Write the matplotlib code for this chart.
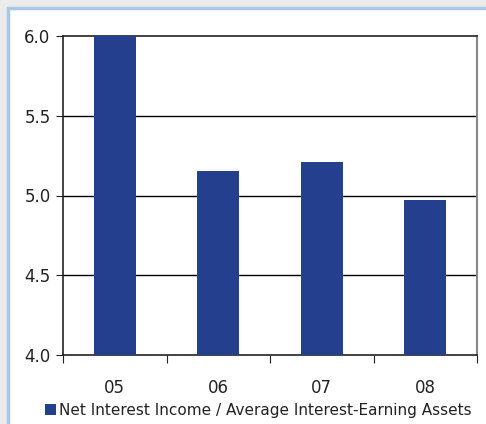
import matplotlib.pyplot as plt
from matplotlib.patches import Rectangle

years = ['05', '06', '07', '08']
values = [6.0, 5.155, 5.21, 4.97]
y_ticks = [4.0, 4.5, 5.0, 5.5, 6.0]
legend_label = 'Net Interest Income / Average Interest-Earning Assets'

bar_color = '#253f8f'
W, H = 486, 424

fig = plt.figure(figsize=(W / 100, H / 100), dpi=100)
fig.patch.set_facecolor('#ebebeb')

# white panel with light blue frame
panel = Rectangle((8 / W, -0.01), 1.1, 1 - 8 / H + 0.01, transform=fig.transFigure,
                  facecolor='white', edgecolor='#a9c8e8', linewidth=2.5, zorder=-5)
fig.patches.append(panel)

ax = fig.add_axes([63 / W, 1 - 355 / H, (477 - 63) / W, (355 - 36) / H], zorder=2)
ax.set_facecolor('white')

x = range(len(years))
ax.bar(x, values, width=0.41, color=bar_color, zorder=3)
ax.set_xlim(-0.5, len(years) - 0.5)
ax.set_ylim(4.0, 6.0)
ax.set_yticks(y_ticks)
ax.set_yticklabels([f'{v:.1f}' for v in y_ticks])
ax.set_xticks([i - 0.5 for i in range(len(years) + 1)])
ax.set_xticklabels([])
ax.set_xticks(list(x), minor=True)
ax.set_xticklabels(years, minor=True)
ax.tick_params(axis='x', which='minor', length=0, pad=17, labelsize=12, colors='#222222')
ax.tick_params(axis='x', which='major', length=6, direction='out', color='#222222')
ax.tick_params(axis='y', length=5, direction='out', labelsize=12, colors='#222222', pad=4)

for yv in y_ticks[1:-1]:
    ax.axhline(yv, color='black', linewidth=1, zorder=1)

for side in ['left', 'bottom', 'top']:
    ax.spines[side].set_color('#222222')
    ax.spines[side].set_linewidth(1.2)
ax.spines['right'].set_color('#888888')
ax.spines['right'].set_linewidth(1.5)

fig.patches.append(Rectangle((45 / W, 1 - 415 / H), 11 / W, 11 / H, transform=fig.transFigure,
                             facecolor=bar_color, edgecolor='none', zorder=3))
fig.text(59 / W, 1 - 410 / H, legend_label, fontsize=11, va='center', ha='left', color='#222222')

fig.savefig('out.png', dpi=100, facecolor=fig.get_facecolor())
